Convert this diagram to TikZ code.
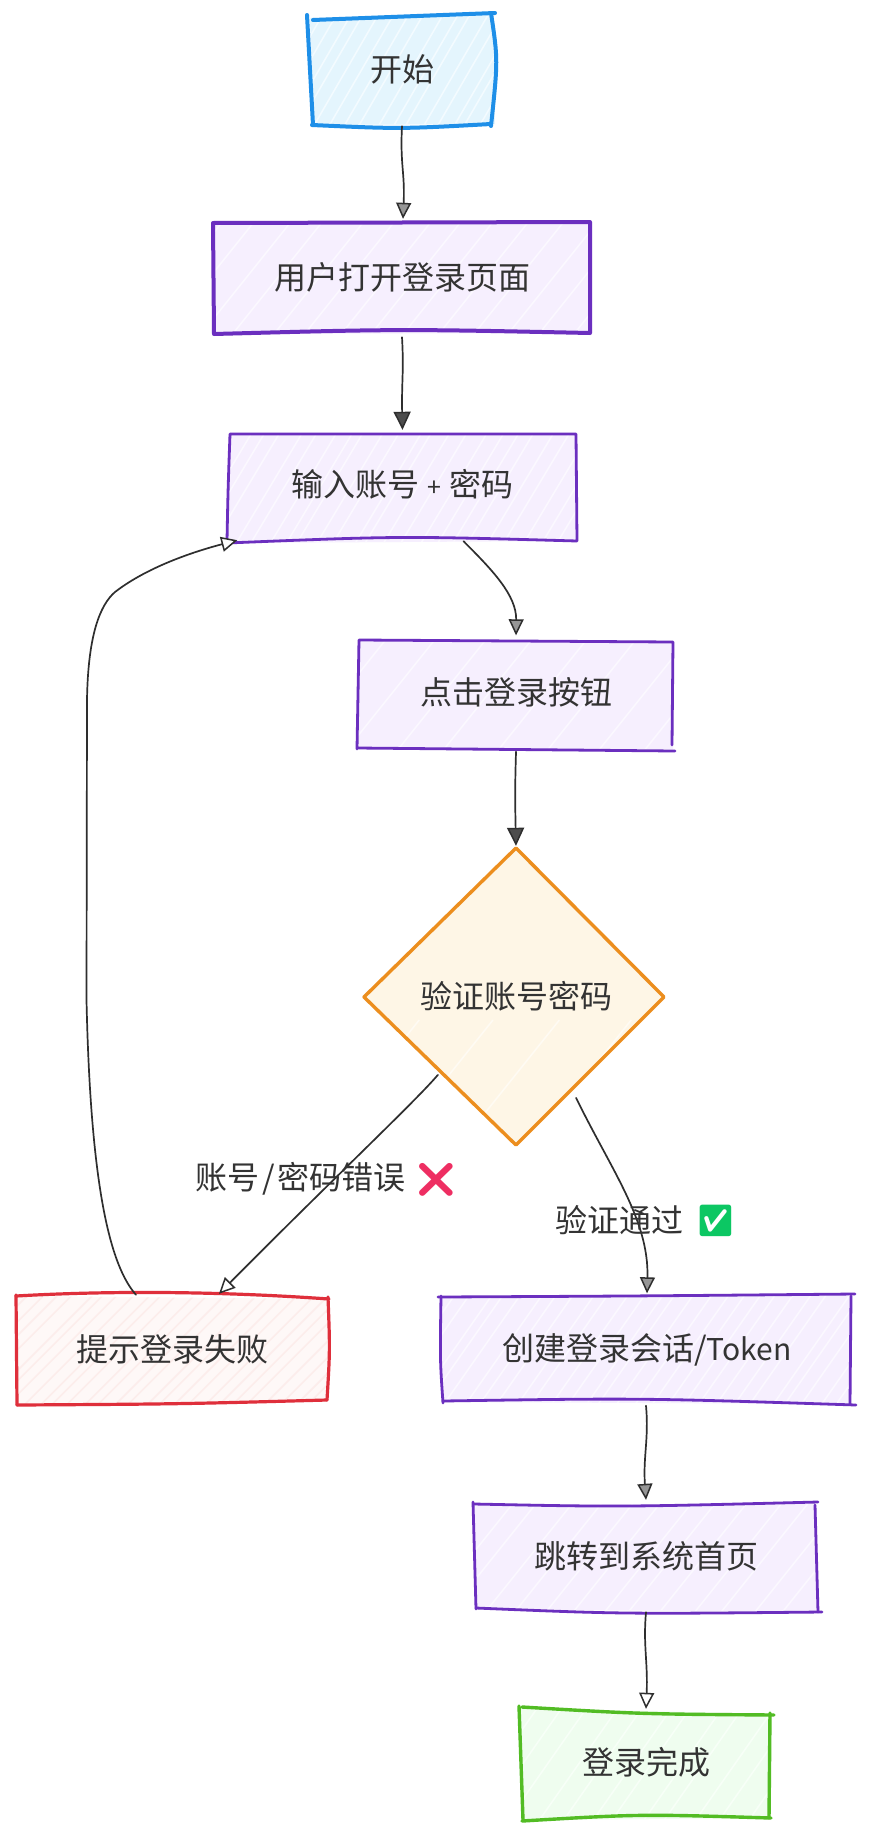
\documentclass[tikz,border=0pt]{standalone}
\usepackage{fontspec}
\setmainfont{Noto Sans CJK SC}
\newfontfamily\emojifont{Noto Emoji}
\usetikzlibrary{arrows.meta,shapes.geometric}
\definecolor{inkc}{HTML}{333333}
\definecolor{linec}{HTML}{2E2E2E}
\definecolor{bluec}{HTML}{1E8FE8}
\definecolor{bluef}{HTML}{E4F5FD}
\definecolor{blueh}{HTML}{F3FBFF}
\definecolor{purplec}{HTML}{6B2FBF}
\definecolor{purplef}{HTML}{F6EFFE}
\definecolor{purpleh}{HTML}{FBF8FF}
\definecolor{redc}{HTML}{DF2F3B}
\definecolor{redf}{HTML}{FEF8F7}
\definecolor{redh}{HTML}{FCEDEB}
\definecolor{orangec}{HTML}{EC8E1E}
\definecolor{orangef}{HTML}{FEF6E6}
\definecolor{orangeh}{HTML}{FFFBF3}
\definecolor{greenc}{HTML}{52BC24}
\definecolor{greenf}{HTML}{EFFDEF}
\definecolor{greenh}{HTML}{F7FFF7}
\definecolor{crossc}{HTML}{EE2E62}
\definecolor{tickc}{HTML}{0CC763}
\tikzset{
  boxnode/.style={inner sep=0pt,text=inkc,font=\fontsize{32}{36}\selectfont,align=center},
  labelnode/.style={inner sep=0pt,text=inkc,font=\fontsize{32}{36}\selectfont},
  blueline/.style={draw=bluec,line width=4pt,line cap=round},
  purplethick/.style={draw=purplec,line width=4pt,line cap=round},
  purpleline/.style={draw=purplec,line width=2.8pt,line cap=round},
  redline/.style={draw=redc,line width=3.2pt,line cap=round},
  orangeline/.style={draw=orangec,line width=3.4pt,line cap=round,line join=round},
  greenline/.style={draw=greenc,line width=3.4pt,line cap=round},
  conn/.style={draw=linec,line width=1.7pt,line cap=round},
  openhead/.style={conn,-{Triangle[length=16pt,width=15pt,line width=1.5pt,fill=white]}},
  midhead/.style={conn,-{Triangle[length=16pt,width=15pt,line width=1.5pt,fill=linec!50!white]}},
  darkhead/.style={conn,-{Triangle[length=18pt,width=17pt,line width=1.5pt,fill=linec!85!white]}},
}
\newcommand\hachure[7]{%
  \fill[#1] #7 -- cycle;
  \begin{scope}
    \clip #7 -- cycle;
    \foreach \k in {0,...,50}
      \draw[#2,line width=1.6pt] ({#5-120+\k*#3+8*rnd},{#6+5}) -- ++({#4*130},-130);
  \end{scope}}
\begin{document}
\begin{tikzpicture}[x=1pt,y=-1pt]
\pgfmathsetseed{7}
\useasboundingbox (0,0) rectangle (868,1836);
\fill[white] (0,0) rectangle (868,1836);
% fills
\hachure{bluef}{blueh}{15}{0.58}{310}{125}{(310,18) -- (493,14) -- (495,124) -- (313,125)}
\hachure{purplef}{purpleh}{34}{0.8}{213}{333}{(213,223) -- (590,222) -- (590,333) -- (213,334)}
\hachure{purplef}{purpleh}{17}{0.6}{228}{541}{(229,434) -- (576,434) -- (577,541) -- (227,543)}
\hachure{purplef}{purpleh}{50}{0.8}{358}{749}{(359,640) -- (673,642) -- (673,749) -- (357,749)}
\hachure{orangef}{orangeh}{70}{0.8}{364}{1145}{(516,848) -- (664,997) -- (516,1145) -- (364,997)}
\hachure{redf}{redh}{15}{1}{17}{1404}{(16,1296) -- (329,1299) -- (327,1400) -- (17,1405)}
\hachure{purplef}{purpleh}{17}{0.7}{441}{1403}{(441,1296) -- (852,1295) -- (850,1404) -- (443,1402)}
\hachure{purplef}{purpleh}{30}{0.8}{474}{1612}{(473,1504) -- (816,1504) -- (818,1612) -- (476,1609)}
\hachure{greenf}{greenh}{26}{0.7}{520}{1820}{(519,1708) -- (770,1714) -- (769,1818) -- (523,1820)}
% sketched outlines
\draw[blueline] (313,20) -- (495,13);
\draw[blueline] (307,15) -- (313,125);
\draw[blueline] (491,13) .. controls (498,60) .. (491,126);
\draw[blueline] (312,125) .. controls (400,129) .. (491,124);
\draw[purplethick] (213,223) -- (590,222) (213,223) -- (214,334) (590,222) -- (590,333) (214,334) .. controls (400,329) .. (590,333);
\draw[purpleline] (230,434) -- (576,434) (230,434) .. controls (228,490) .. (227,541) (576,434) -- (577,541) (227,543) .. controls (400,536) .. (577,541);
\draw[purpleline] (359,640) -- (673,642) (359,640) -- (357,749) (673,642) -- (672,745) (357,748) -- (675,751);
\draw[orangeline] (516,848) -- (664,997) -- (516,1145) -- (364,997) -- cycle;
\draw[redline] (16,1296) .. controls (120,1290) and (230,1292) .. (329,1299);
\draw[redline] (16,1295) -- (17,1405);
\draw[redline] (328,1297) .. controls (330,1350) .. (327,1400);
\draw[redline] (17,1405) .. controls (180,1404) .. (327,1400);
\draw[purpleline] (438,1297) .. controls (640,1296) .. (855,1294);
\draw[purpleline] (441,1296) .. controls (440,1360) .. (443,1403);
\draw[purpleline] (851,1296) -- (850,1404);
\draw[purpleline] (443,1401) .. controls (640,1398) .. (856,1405);
\draw[purpleline] (474,1504) .. controls (620,1507) .. (818,1502);
\draw[purpleline] (473,1502) -- (476,1609);
\draw[purpleline] (815,1505) -- (818,1612);
\draw[purpleline] (476,1608) .. controls (620,1614) .. (822,1612);
\draw[greenline] (522,1707) .. controls (640,1714) .. (774,1715);
\draw[greenline] (519,1706) -- (523,1820);
\draw[greenline] (770,1713) -- (769,1818);
\draw[greenline] (522,1821) .. controls (640,1814) .. (771,1818);
% nodes
\node[boxnode,minimum width=186pt,minimum height=111pt] (start) at (402,69.5) {开始};
\node[boxnode,minimum width=377pt,minimum height=110pt] (open) at (402,277) {用户打开登录页面};
\node[boxnode,minimum width=348pt,minimum height=107pt] (input) at (402.5,484.5) {输入账号\kern1pt{} {\fontsize{25}{36}\selectfont +} \kern1pt{}密码};
\node[boxnode,minimum width=315pt,minimum height=109pt] (click) at (516,692) {点击登录按钮};
\node[boxnode,shape=diamond,minimum width=300pt,minimum height=297pt] (verify) at (516,996.5) {验证账号密码};
\node[boxnode,minimum width=312pt,minimum height=108pt] (fail) at (172,1349) {提示登录失败};
\node[boxnode,minimum width=410pt,minimum height=107pt] (session) at (647,1350) {创建登录会话/{\fontsize{30}{36}\selectfont Token}};
\node[boxnode,minimum width=344pt,minimum height=108pt] (jump) at (646,1556) {跳转到系统首页};
\node[boxnode,minimum width=250pt,minimum height=110pt] (done) at (646,1762) {登录完成};
% connectors
\coordinate (s1) at ([yshift=-1pt]start.south);
\draw[midhead] (s1) .. controls ([xshift=-2pt,yshift=-40pt]start.south) and ([xshift=3pt,yshift=50pt]open.north) .. ([xshift=1pt,yshift=3pt]open.north);
\draw[darkhead] ([yshift=-5pt]open.south) .. controls ([xshift=2pt,yshift=-40pt]open.south) and ([xshift=-1pt,yshift=50pt]input.north) .. ([yshift=1pt]input.north);
\draw[midhead] ([xshift=61pt,yshift=-3pt]input.south) .. controls ([xshift=90pt,yshift=-32pt]input.south) and ([xshift=114pt,yshift=-57pt]input.south) .. ([yshift=2pt]click.north);
\draw[darkhead] ([yshift=-5pt]click.south) .. controls ([xshift=-1pt,yshift=-40pt]click.south) and ([xshift=-1pt,yshift=50pt]verify.north) .. ([yshift=2pt]verify.north);
\draw[openhead] ([xshift=-3pt,yshift=-4pt]verify.south west) .. controls ([xshift=-25pt,yshift=-30pt]verify.south west) and ([xshift=-110pt,yshift=-110pt]verify.south west) .. ([xshift=47pt,yshift=1pt]fail.north);
\draw[midhead] ([xshift=-15pt,yshift=-27pt]verify.south east) .. controls ([xshift=20pt,yshift=-99pt]verify.south east) and ([xshift=58pt,yshift=-149pt]verify.south east) .. ([yshift=3pt]session.north);
\draw[midhead] ([xshift=-1pt,yshift=-2pt]session.south) .. controls ([xshift=2pt,yshift=-35pt]session.south) and ([xshift=-3pt,yshift=45pt]jump.north) .. ([yshift=2pt]jump.north);
\draw[openhead] ([yshift=-2pt]jump.south) .. controls ([xshift=-3pt,yshift=-35pt]jump.south) and ([xshift=2pt,yshift=45pt]done.north) .. ([yshift=-2pt]done.north);
\draw[openhead] ([xshift=-36pt,yshift=0pt]fail.north) .. controls (105,1260) and (90,1160) .. (86.5,1000) -- (87,700) .. controls (88,635) and (100,605) .. (115,592) .. controls (150,565) and (200,550) .. ([xshift=9pt,yshift=-2pt]input.south west);
% edge labels
\node[labelnode] (wrong) at (300.5,1179) {账号\kern2.5pt/\kern2.5pt密码错误};
\node[inner sep=0pt,text=crossc,font=\fontsize{34}{36}\selectfont\emojifont] (crossmark) at (436,1180) {❌};
\node[labelnode] (pass) at (619,1220) {验证通过};
\node[inner sep=0pt,text=tickc,font=\fontsize{31}{34}\selectfont\emojifont] (tickmark) at (715.5,1220.5) {✅};
\end{tikzpicture}
\end{document}
